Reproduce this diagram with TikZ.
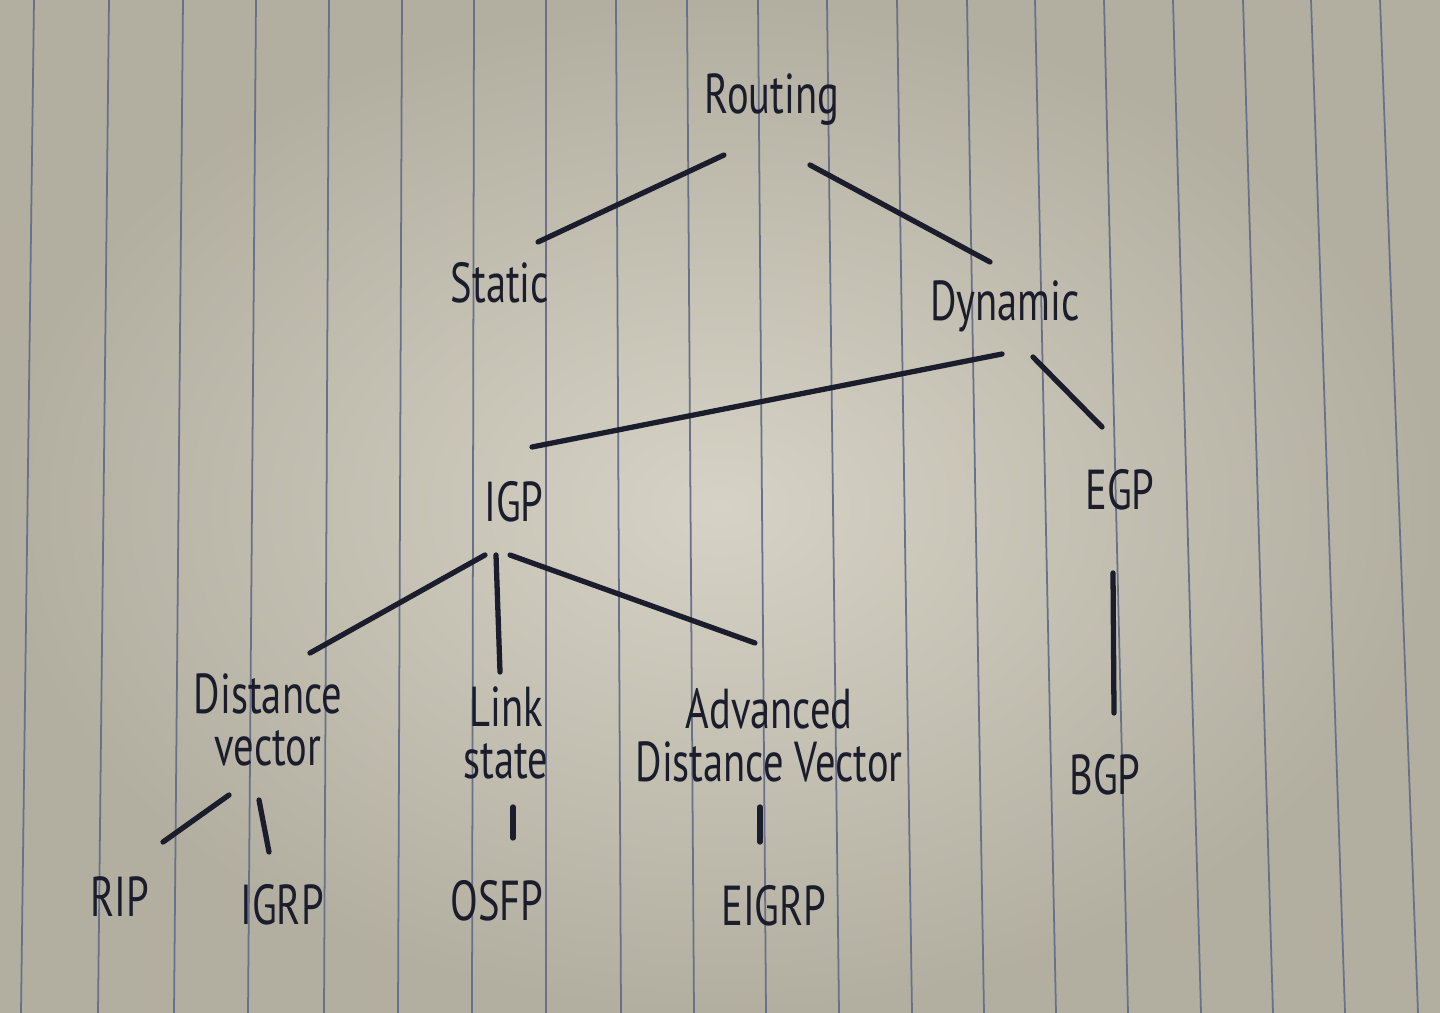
\documentclass[tikz,border=0pt]{standalone}
\usepackage{fontspec}
\setmainfont{PT Sans}
\usepackage{xcolor}

\begin{document}
\begin{tikzpicture}[x=0.01cm,y=-0.01cm,
  hand/.style={font=\fontsize{16}{15}\selectfont,text=ink,xscale=0.72,align=center,inner sep=0pt},
  pen/.style={draw=ink,line width=1.5pt,line cap=round}]
\definecolor{ink}{HTML}{1B1C2C}
\definecolor{rule}{RGB}{104,112,138}
\definecolor{paperhi}{RGB}{214,211,198}
\definecolor{paperlo}{RGB}{178,174,160}
  \shade[inner color=paperhi,outer color=paperlo] (0,0) rectangle (1440,1013);
  \useasboundingbox (0,0) rectangle (1440,1013);
  % ruled paper
  \foreach \top/\bot in {34/21,109/98,183/174,256/248,329/324,402/398,474/472,546/546,616/621,687/694,
    758/766,827/839,897/912,967/984,1035/1056,1104/1128,1173/1201,1243/1273,1311/1345,1380/1418}
  {  \draw[rule,line width=0.5pt] (\top,0) -- (\bot,1013);}
  % labels
  \node [hand] (routing) at (772,100) {Routing};
  \node [hand] (static) at (500,283) {Static};
  \node [hand] (dynamic) at (1005,306) {Dynamic};
  \node [hand] (igp) at (514,502) {IGP};
  \node [hand] (egp) at (1120,490) {EGP};
  \node [hand] (distvec) at (268,720) {Distance\\vector};
  \node [hand] (linkstate) at (506,733) {Link\\state};
  \node [hand] (advdist) at (769,735) {Advanced\\Distance Vector};
  \node [hand] (bgp) at (1105,775) {BGP};
  \node [hand] (rip) at (120,897) {RIP};
  \node [hand] (igrp) at (282,905) {IGRP};
  \node [hand] (osfp) at (497,901) {OSFP};
  \node [hand] (eigrp) at (774,906) {EIGRP};
  % branches
  \draw[pen] ([shift={(-48,55)}]routing.center) -- ([shift={(38,-41)}]static.center);
  \draw[pen] ([shift={(38,65)}]routing.center) -- ([shift={(-15,-44)}]dynamic.center);
  \draw[pen] ([shift={(-3,48)}]dynamic.center) -- ([shift={(18,-55)}]igp.center);
  \draw[pen] ([shift={(28,51)}]dynamic.center) -- ([shift={(-18,-63)}]egp.center);
  \draw[pen] ([shift={(-29,53)}]igp.center) -- ([shift={(42,-67)}]distvec.center);
  \draw[pen] ([shift={(-18,53)}]igp.center) -- ([shift={(-6,-61)}]linkstate.center);
  \draw[pen] ([shift={(-4,53)}]igp.center) -- ([shift={(-14,-92)}]advdist.center);
  \draw[pen] ([shift={(-7,83)}]egp.center) -- ([shift={(9,-62)}]bgp.center);
  \draw[pen] ([shift={(-39,75)}]distvec.center) -- ([shift={(43,-55)}]rip.center);
  \draw[pen] ([shift={(-9,80)}]distvec.center) -- ([shift={(-13,-53)}]igrp.center);
  \draw[pen] ([shift={(7,74)}]linkstate.center) -- ([shift={(16,-63)}]osfp.center);
  \draw[pen] ([shift={(-9,72)}]advdist.center) -- ([shift={(-14,-64)}]eigrp.center);
\end{tikzpicture}
\end{document}
